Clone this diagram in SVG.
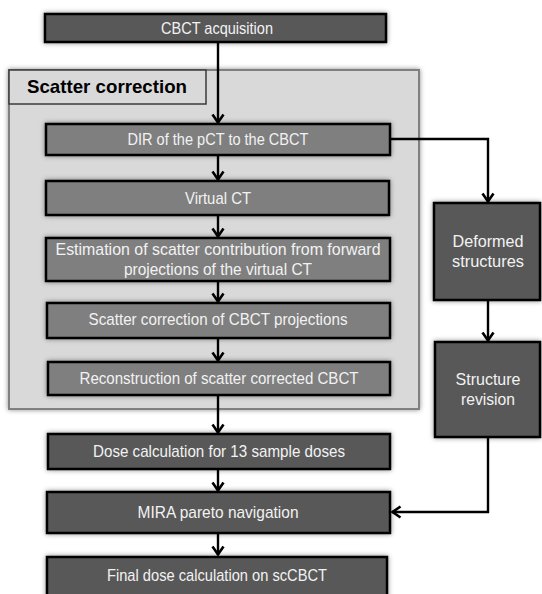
<svg xmlns="http://www.w3.org/2000/svg" width="542" height="594" viewBox="0 0 542 594">
<style>
.dark{fill:#595959;stroke:#000;stroke-width:2.5}
.mid{fill:#7f7f7f;stroke:#000;stroke-width:2.5}
.t{font-family:"Liberation Sans",Arial,sans-serif;font-size:17px;fill:#f2f2f2;text-anchor:middle}
.c{fill:none;stroke:#000;stroke-width:2.4}
</style>
<defs>
<filter id="sh" x="-10%" y="-30%" width="120%" height="160%">
<feDropShadow dx="0" dy="0" stdDeviation="2.5" flood-color="#000" flood-opacity="0.45"/>
</filter>
<marker id="ah" viewBox="0 0 12 14" refX="10.5" refY="7" markerWidth="12" markerHeight="14" markerUnits="userSpaceOnUse" orient="auto">
<path d="M2,1.5 L10,7 L2,12.5" fill="none" stroke="#000" stroke-width="2.6"/>
</marker>
</defs>
<rect width="542" height="594" fill="#fff"/>
<g id="panel">
<rect x="9" y="70" width="410" height="339" fill="#d9d9d9" stroke="#808080" stroke-width="2" filter="url(#sh)"/>
<rect x="9" y="70" width="197" height="34" fill="#d9d9d9" stroke="#3a3a3a" stroke-width="1.5"/>
<text x="27" y="93" font-family="Liberation Sans,Arial,sans-serif" font-size="19" font-weight="bold" fill="#000" textLength="160" lengthAdjust="spacingAndGlyphs">Scatter correction</text>
</g>
<g id="connectors">
<path class="c" d="M218,42 V123" marker-end="url(#ah)"/>
<path class="c" d="M218,155 V180" marker-end="url(#ah)"/>
<path class="c" d="M218,215 V237" marker-end="url(#ah)"/>
<path class="c" d="M218,281 V302" marker-end="url(#ah)"/>
<path class="c" d="M218,338 V361" marker-end="url(#ah)"/>
<path class="c" d="M218,395 V433" marker-end="url(#ah)"/>
<path class="c" d="M218,469 V491" marker-end="url(#ah)"/>
<path class="c" d="M218,533 V555" marker-end="url(#ah)"/>
<path class="c" d="M390,139 H488 V202" marker-end="url(#ah)"/>
<path class="c" d="M488,300 V341" marker-end="url(#ah)"/>
<path class="c" d="M488,437 V512 H392" marker-end="url(#ah)"/>
</g>
<g id="n1"><rect class="dark" x="45" y="14" width="341" height="28" filter="url(#sh)"/><text class="t" x="217" y="34" textLength="112" lengthAdjust="spacingAndGlyphs">CBCT acquisition</text></g>
<g id="n2"><rect class="mid" x="46" y="124" width="344" height="31" filter="url(#sh)"/><text class="t" x="218" y="145" textLength="181" lengthAdjust="spacingAndGlyphs">DIR of the pCT to the CBCT</text></g>
<g id="n3"><rect class="mid" x="46" y="181" width="343" height="34" filter="url(#sh)"/><text class="t" x="218" y="204" textLength="66" lengthAdjust="spacingAndGlyphs">Virtual CT</text></g>
<g id="n4"><rect class="mid" x="46" y="238" width="344" height="43" filter="url(#sh)"/><text class="t" x="218" y="255" textLength="325" lengthAdjust="spacingAndGlyphs">Estimation of scatter contribution from forward</text><text class="t" x="218" y="275" textLength="188" lengthAdjust="spacingAndGlyphs">projections of the virtual CT</text></g>
<g id="n5"><rect class="mid" x="47" y="303" width="343" height="35" filter="url(#sh)"/><text class="t" x="218" y="325" textLength="259" lengthAdjust="spacingAndGlyphs">Scatter correction of CBCT projections</text></g>
<g id="n6"><rect class="mid" x="48" y="362" width="342" height="33" filter="url(#sh)"/><text class="t" x="219" y="384" textLength="279" lengthAdjust="spacingAndGlyphs">Reconstruction of scatter corrected CBCT</text></g>
<g id="n7"><rect class="dark" x="48" y="434" width="342" height="35" filter="url(#sh)"/><text class="t" x="219" y="457" textLength="252" lengthAdjust="spacingAndGlyphs">Dose calculation  for 13 sample doses</text></g>
<g id="n8"><rect class="dark" x="47" y="492" width="343" height="41" filter="url(#sh)"/><text class="t" x="218" y="518" textLength="161" lengthAdjust="spacingAndGlyphs">MIRA pareto navigation</text></g>
<g id="n9"><rect class="dark" x="47" y="557" width="340" height="50" filter="url(#sh)"/><text class="t" x="217" y="581" textLength="220" lengthAdjust="spacingAndGlyphs">Final dose calculation on scCBCT</text></g>
<g id="n10"><rect class="dark" x="434" y="203" width="106" height="97" filter="url(#sh)"/><text class="t" x="488" y="247" textLength="71" lengthAdjust="spacingAndGlyphs">Deformed</text><text class="t" x="488" y="267" textLength="72" lengthAdjust="spacingAndGlyphs">structures</text></g>
<g id="n11"><rect class="dark" x="435" y="342" width="105" height="95" filter="url(#sh)"/><text class="t" x="488" y="385" textLength="65" lengthAdjust="spacingAndGlyphs">Structure</text><text class="t" x="488" y="405" textLength="54" lengthAdjust="spacingAndGlyphs">revision</text></g>
</svg>
